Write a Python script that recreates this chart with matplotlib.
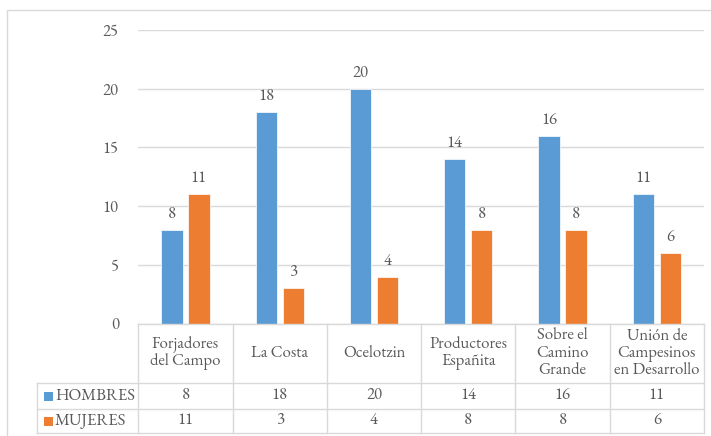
import matplotlib
matplotlib.use("Agg")
import matplotlib.pyplot as plt
from matplotlib.lines import Line2D
from matplotlib.patches import Rectangle
import matplotlib.transforms as mtransforms
import numpy as np

categories = ["Forjadores\ndel Campo", "La Costa", "Ocelotzin", "Productores\nEspañita",
              "Sobre el\nCamino\nGrande", "Unión de\nCampesinos\nen Desarrollo"]
series_names = ["HOMBRES", "MUJERES"]
hombres = [8, 18, 20, 14, 16, 11]
mujeres = [11, 3, 4, 8, 8, 6]
yticks = [0, 5, 10, 15, 20, 25]

BLUE = "#5B9BD5"
ORANGE = "#ED7D31"
GRID = "#D9D9D9"
TXT = "#595959"
FONT = ["EB Garamond", "Liberation Serif", "DejaVu Serif"]
FS = 12

W, H = 711, 436
fig = plt.figure(figsize=(W / 100, H / 100), dpi=100)

def fx(px):
    return px / W

def fy(py):
    return 1 - py / H

ax_left, ax_right, ax_top, ax_bottom = 138.3, 704.0, 30.0, 323.5
ax = fig.add_axes([fx(ax_left), fy(ax_bottom), fx(ax_right) - fx(ax_left), fy(ax_top) - fy(ax_bottom)])

n = len(categories)
x = np.arange(n)
bw = 0.225
off = 0.143
colors = [BLUE, ORANGE]
for vals, dx, col in [(hombres, -off, BLUE), (mujeres, off, ORANGE)]:
    ax.bar(x + dx, vals, width=bw, color=col, edgecolor="white", linewidth=0.5, zorder=3)
    for xi, v in zip(x + dx, vals):
        ax.annotate(str(v), (xi, v), xytext=(0, 5), textcoords="offset points",
                    ha="center", va="bottom", fontsize=FS, color=TXT, family=FONT)

ax.set_xlim(-0.5, n - 0.5)
ax.set_ylim(0, 25)
ax.set_yticks(yticks)
ax.set_yticklabels([str(t) for t in yticks], fontsize=FS, color=TXT, family=FONT)
ax.tick_params(axis="y", length=0, pad=14)
ax.set_xticks([])
ax.grid(axis="y", color=GRID, linewidth=1.0, zorder=0)
for s in ax.spines.values():
    s.set_visible(False)

# outer chart border
fig.add_artist(Rectangle((fx(6.5), fy(445)), fx(720) - fx(6.5), fy(10.5) - fy(445),
                         transform=fig.transFigure, fill=False, edgecolor=GRID, linewidth=1.0))

# data table
blend = mtransforms.blended_transform_factory(ax.transData, fig.transFigure)
row_y = [323.5, 383.0, 409.0, 433.0]
legend_left = 37.0

def hline(x0_fig, x1_fig, py):
    fig.add_artist(Line2D([x0_fig, x1_fig], [fy(py), fy(py)], transform=fig.transFigure,
                          color=GRID, linewidth=1.0))

def vline_px(px, y0, y1):
    fig.add_artist(Line2D([fx(px), fx(px)], [fy(y0), fy(y1)], transform=fig.transFigure,
                          color=GRID, linewidth=1.0))

hline(fx(ax_left), fx(ax_right), row_y[0])
for py in row_y[1:]:
    hline(fx(legend_left), fx(ax_right), py)
vline_px(legend_left, row_y[1], row_y[3])
for k in range(n + 1):
    xb = -0.5 + k
    fig.add_artist(Line2D([xb, xb], [fy(row_y[0]), fy(row_y[3])], transform=blend,
                          color=GRID, linewidth=1.0))

# category labels
cy = fy((row_y[0] + row_y[1]) / 2)
for i, c in enumerate(categories):
    t = fig.text(0, 0, c, transform=blend, fontsize=FS, color=TXT, family=FONT,
                 ha="center", va="center", linespacing=1.0)
    t.set_position((i, cy))

# series rows
for r, (name, vals, col) in enumerate(zip(series_names, [hombres, mujeres], colors)):
    y0, y1 = row_y[r + 1], row_y[r + 2]
    yc = (y0 + y1) / 2
    fig.add_artist(Rectangle((fx(43.5), fy(yc + 4.5)), fx(9), 9 / H, transform=fig.transFigure,
                             facecolor=col, edgecolor="none"))
    fig.text(fx(55), fy(yc), name, fontsize=FS, color=TXT, family=FONT, ha="left", va="center")
    for i, v in enumerate(vals):
        t = fig.text(0, 0, str(v), transform=blend, fontsize=FS, color=TXT, family=FONT,
                     ha="center", va="center")
        t.set_position((i, fy(yc)))

fig.savefig("out.png", dpi=100, facecolor="white")
